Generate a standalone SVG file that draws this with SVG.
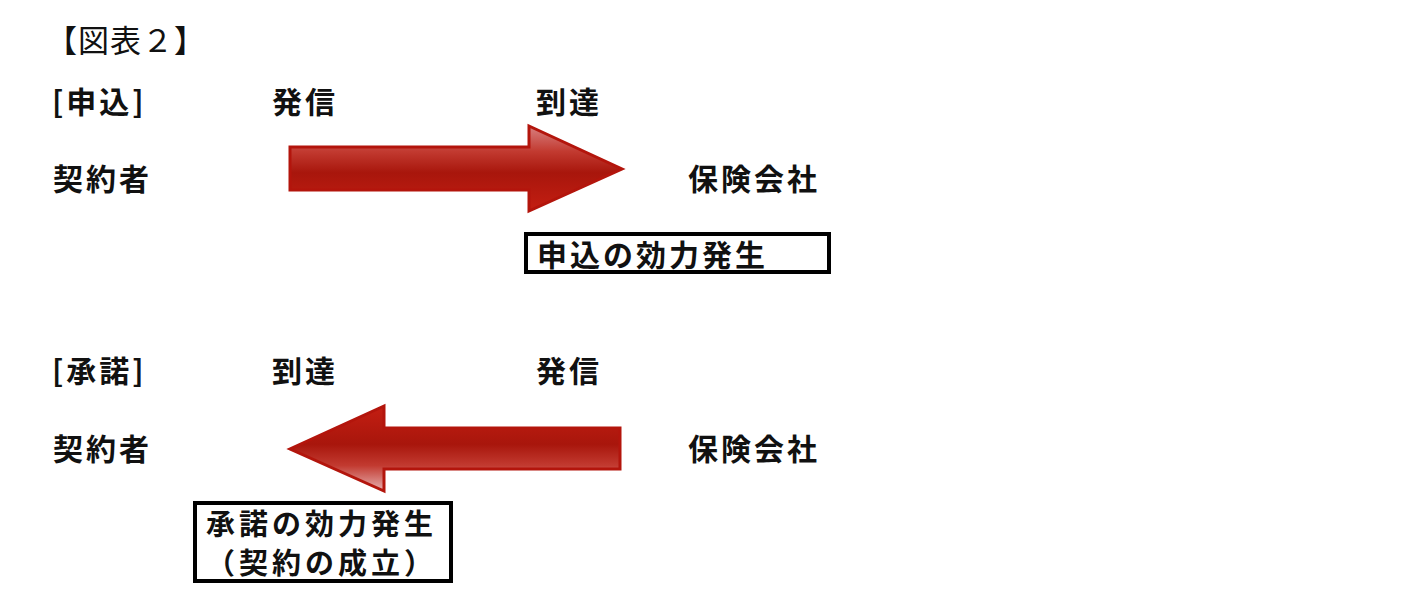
<svg xmlns="http://www.w3.org/2000/svg" width="1411" height="616" viewBox="0 0 1411 616">
<style>
.t{font-family:"Noto Sans CJK JP",sans-serif;font-weight:bold;font-size:30px;fill:#111;letter-spacing:3px}
.b{font-family:"Noto Sans CJK JP",sans-serif;font-weight:bold;font-size:29px;fill:#111;letter-spacing:4px}
.ttl{font-family:"Noto Sans CJK JP",serif;font-size:31px;fill:#111;letter-spacing:1px}
.box{fill:#fff;stroke:#000;stroke-width:4}
.arr{stroke:#b3150c;stroke-width:3;stroke-linejoin:miter}
</style>
<defs>
<linearGradient id="g1" x1="0" y1="0" x2="0" y2="1">
<stop offset="0" stop-color="#d88080"/>
<stop offset="0.3" stop-color="#c23a30"/>
<stop offset="0.55" stop-color="#a8160c"/>
<stop offset="1" stop-color="#c41e12"/>
</linearGradient>
<linearGradient id="g2" x1="0" y1="0" x2="0" y2="1">
<stop offset="0" stop-color="#c41e12"/>
<stop offset="0.45" stop-color="#a8160c"/>
<stop offset="0.7" stop-color="#c23a30"/>
<stop offset="1" stop-color="#e6b0b0"/>
</linearGradient>
</defs>
<rect width="1411" height="616" fill="#fff"/>
<text class="ttl" x="46" y="52">【図表２】</text>
<g id="row1">
<text class="t" x="52" y="113">[申込]</text>
<text class="t" x="272" y="113">発信</text>
<text class="t" x="536" y="113">到達</text>
<text class="t" x="53" y="190">契約者</text>
<text class="t" x="688" y="190">保険会社</text>
</g>
<g id="connectors">
<path class="arr" fill="url(#g1)" d="M290,147 L529,147 L529,126 L622,169 L529,211 L529,190 L290,190 Z"/>
<path class="arr" fill="url(#g2)" d="M620,428 L384,428 L384,406 L290,449 L384,491 L384,469 L620,469 Z"/>
</g>
<g id="box1">
<rect class="box" x="526" y="234" width="303" height="38"/>
<text class="t" x="537" y="266">申込の効力発生</text>
</g>
<g id="row2">
<text class="t" x="52" y="382">[承諾]</text>
<text class="t" x="272" y="382">到達</text>
<text class="t" x="536" y="382">発信</text>
<text class="t" x="53" y="460">契約者</text>
<text class="t" x="688" y="460">保険会社</text>
</g>
<g id="box2">
<rect class="box" x="195" y="503" width="256" height="78"/>
<text class="b" x="206" y="535">承諾の効力発生</text>
<text class="b" x="206" y="574">（契約の成立）</text>
</g>
</svg>
